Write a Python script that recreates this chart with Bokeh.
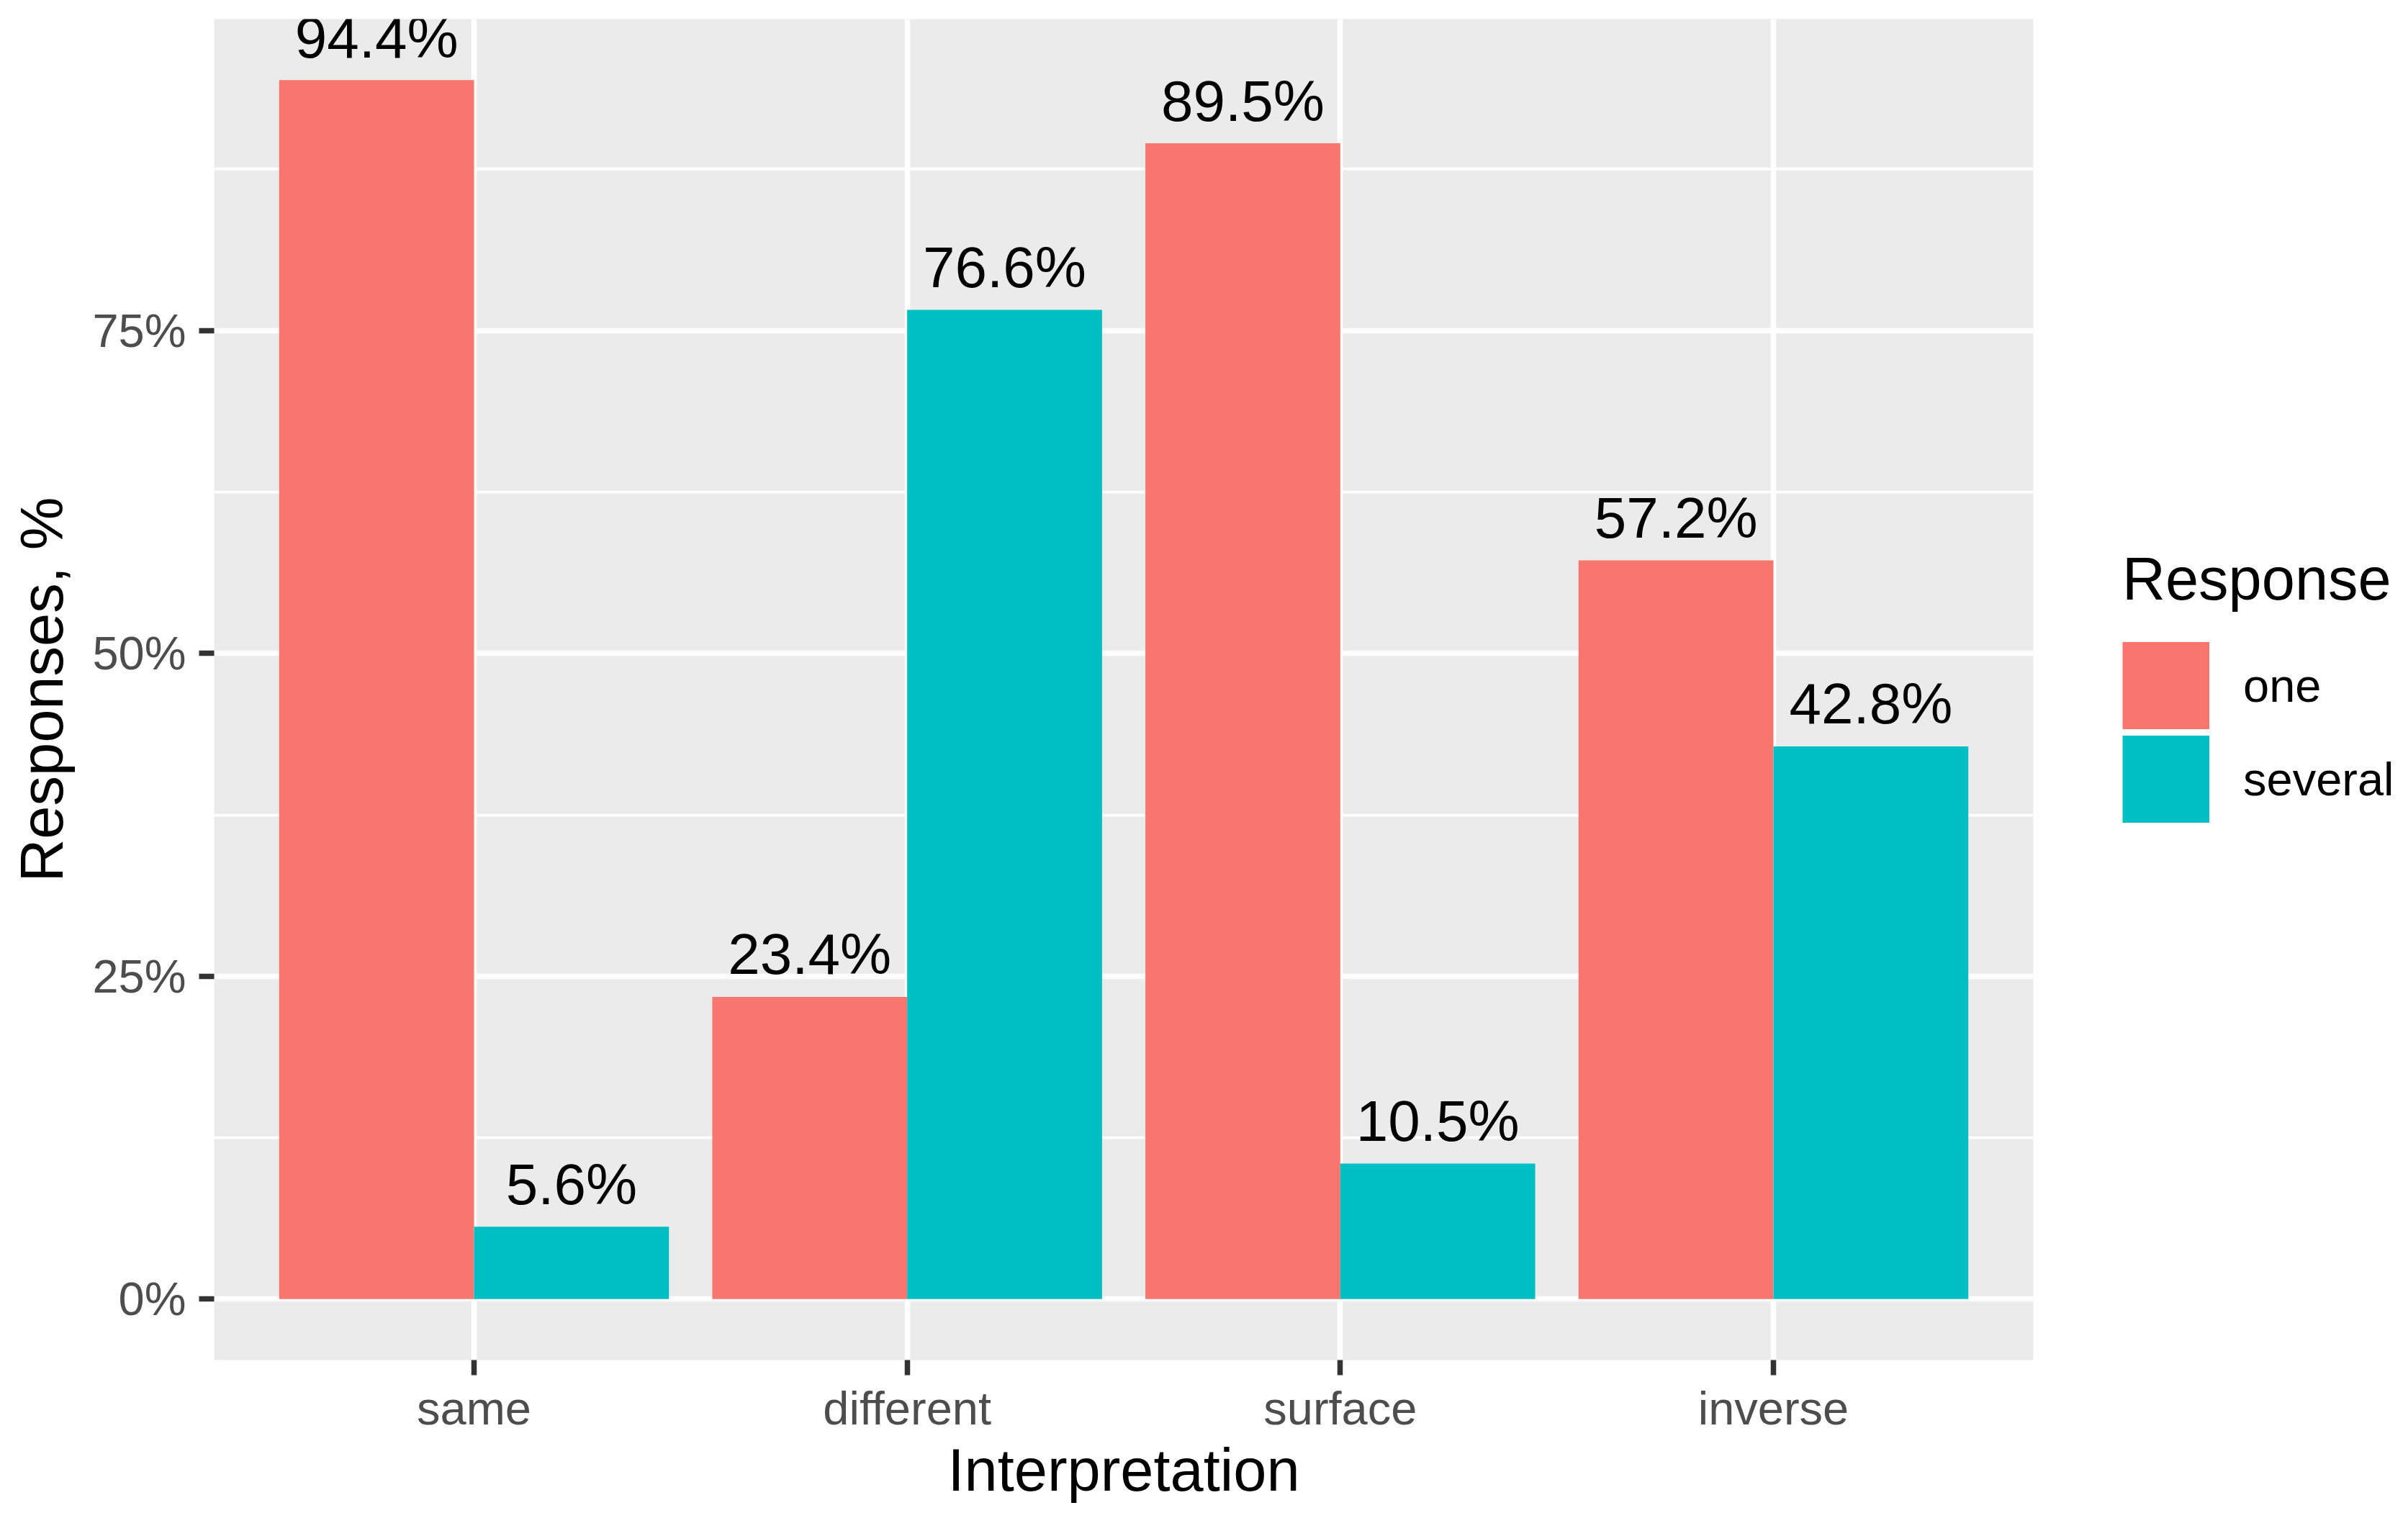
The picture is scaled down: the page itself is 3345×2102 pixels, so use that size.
from bokeh.plotting import figure
from bokeh.models import (ColumnDataSource, Range1d, FixedTicker, PrintfTickFormatter,
                          Legend, LegendItem)
from bokeh.embed import file_html
from bokeh.resources import INLINE
from bokeh.core.properties import value

# ---- data ----
categories = ["same", "different", "surface", "inverse"]
one_pct = [94.4, 23.4, 89.5, 57.2]
several_pct = [5.6, 76.6, 10.5, 42.8]
series_names = ["one", "several"]
series_colors = ["#F8766D", "#00BFC4"]
y_ticks = [0, 25, 50, 75]
y_minor_ticks = [12.5, 37.5, 62.5, 87.5]
x_title = "Interpretation"
y_title = "Responses, %"
legend_title = "Response"

FONT = "Liberation Sans"

FRAME_W, FRAME_H = 2527, 1863
pos = [i + 1 for i in range(len(categories))]
group_width = 0.9
bar_w = group_width / 2

ymax = max(one_pct + several_pct)
y_lo, y_hi = -0.05 * ymax, ymax * 1.05
label_gap_px = 59
label_gap = label_gap_px * (y_hi - y_lo) / FRAME_H   # screen gap expressed in data units

p = figure(frame_width=FRAME_W, frame_height=FRAME_H,
           x_range=Range1d(0.4, len(categories) + 0.6),
           y_range=Range1d(y_lo, y_hi),
           output_backend="svg", toolbar_location=None,
           min_border_left=297, min_border_top=26, min_border_right=513,
           min_border_bottom=150)

p.background_fill_color = "#EBEBEB"
p.border_fill_color = "white"
p.outline_line_color = None

series = [one_pct, several_pct]
offsets = [-bar_w / 2, bar_w / 2]
legend_items = []
for name, vals, col, off in zip(series_names, series, series_colors, offsets):
    src = ColumnDataSource(dict(x=[c + off for c in pos], top=vals,
                                ylab=[v + label_gap for v in vals],
                                label=[f"{v:.1f}%" for v in vals]))
    p.vbar(x="x", top="top", bottom=0, width=bar_w, source=src,
           fill_color=col, line_color=None)
    p.text(x="x", y="ylab", text="label", source=src,
           text_align="center", text_baseline="alphabetic",
           text_font=value(FONT), text_font_size=value("80px"),
           text_color="black")
    # legend key proxy (a thick line draws a filled square key)
    key = p.line(x=[float("nan")], y=[float("nan")], line_color=col,
                 line_width=121, line_cap="butt")
    legend_items.append(LegendItem(label=name, renderers=[key]))

# axes
for ax in (p.xaxis[0], p.yaxis[0]):
    ax.axis_line_color = None
    ax.major_tick_line_color = "#333333"
    ax.major_tick_line_width = 7.5
    ax.major_tick_out = 21
    ax.major_tick_in = 0
    ax.minor_tick_line_color = None
    ax.major_label_text_font = FONT
    ax.major_label_text_font_size = "65px"
    ax.major_label_text_color = "#4D4D4D"
    ax.axis_label_text_font = FONT
    ax.axis_label_text_font_size = "83px"
    ax.axis_label_text_font_style = "normal"
    ax.axis_label_text_color = "black"

p.xaxis.ticker = FixedTicker(ticks=pos)
p.xaxis.major_label_overrides = {c: lab for c, lab in zip(pos, categories)}
p.xaxis.axis_label = x_title
p.xaxis.major_label_standoff = 9
p.xaxis.axis_label_standoff = 0

p.yaxis.ticker = FixedTicker(ticks=y_ticks, minor_ticks=y_minor_ticks)
p.yaxis.formatter = PrintfTickFormatter(format="%d%%")
p.yaxis.axis_label = y_title
p.yaxis.major_label_standoff = 18
p.yaxis.axis_label_standoff = 20

p.xgrid.grid_line_color = "white"
p.xgrid.grid_line_width = 7.5
p.ygrid.grid_line_color = "white"
p.ygrid.grid_line_width = 7.5
p.ygrid.minor_grid_line_color = "white"
p.ygrid.minor_grid_line_width = 3.75

legend = Legend(items=legend_items, location=(124, 742), title=legend_title,
                orientation="vertical", padding=0, margin=0, spacing=0,
                glyph_width=121, glyph_height=130, label_standoff=47,
                title_standoff=34,
                border_line_color=None, background_fill_alpha=0,
                label_text_font=FONT, label_text_font_size="65px",
                label_text_color="black",
                title_text_font=FONT, title_text_font_size="83px",
                title_text_font_style="normal", title_text_color="black")
p.add_layout(legend, "right")

open("out.html", "w").write(file_html(p, INLINE))
